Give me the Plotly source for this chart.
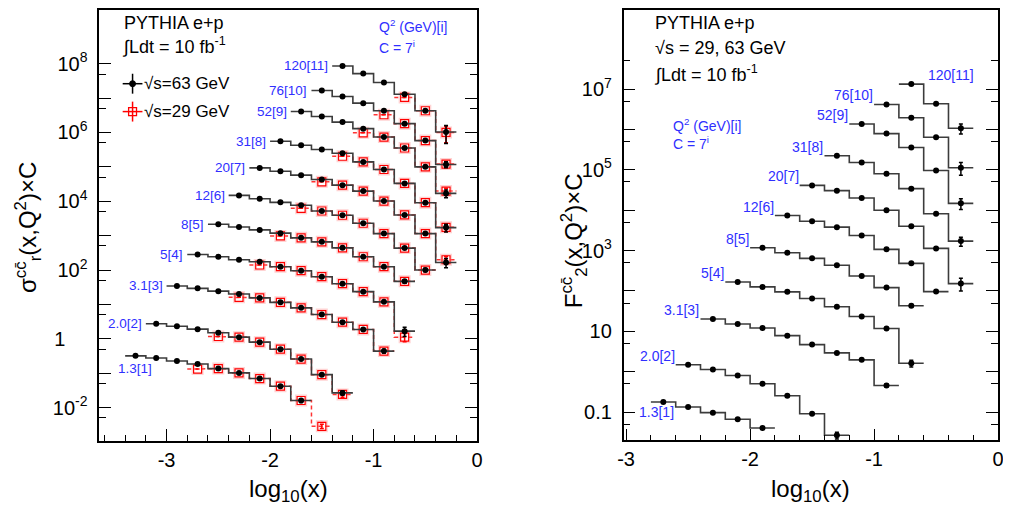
import numpy as np
import plotly.graph_objects as go
from plotly.subplots import make_subplots

# ---- data (values as plotted, i.e. already multiplied by C = 7^i) ----
Q2_LABELS = ["1.3", "2.0", "3.1", "5", "8", "12", "20", "31", "52", "76", "120"]

# log10(x) bin centres (bin width 0.2)
LOGX_BINS = [-3.3, -3.1, -2.9, -2.7, -2.5, -2.3, -2.1, -1.9,
             -1.7, -1.5, -1.3, -1.1, -0.9, -0.7, -0.5, -0.3]

# index of the first filled bin of every Q2 series
FIRST_BIN_63 = [0, 1, 2, 3, 4, 5, 6, 7, 8, 9, 10]
FIRST_BIN_29 = [3, 4, 5, 6, 7, 8, 9, 10, 11, 12, 13]
FIRST_BIN_F2 = [3, 4, 5, 6, 7, 8, 9, 10, 11, 12, 13]

# sigma_r(cc) x C, sqrt(s) = 63 GeV
sigma_63 = [
    [0.32, 0.277, 0.226, 0.185, 0.136, 0.102, 0.070, 0.042, 0.0161],
    [2.74, 2.33, 1.91, 1.50, 1.12, 0.80, 0.50, 0.258, 0.091, 0.0268],
    [34.4, 29.3, 24.3, 20.0, 15.5, 11.5, 7.94, 5.08, 3.04, 1.87, 0.44],
    [282, 243, 199, 174, 125, 95.5, 64.0, 40.1, 23.5, 11.9, 1.67],
    [2140, 1790, 1470, 1180, 861, 659, 442, 243, 125, 46.8],
    [14800, 11800, 9290, 7610, 5200, 3910, 2290, 1146, 434, 100],
    [93300, 74800, 57300, 43000, 29400, 19700, 10140, 3990, 1146, 166],
    [552000, 424000, 318000, 248000, 139000, 83800, 33000, 9060, 1710],
    [4.08e6, 2.92e6, 2.0e6, 1.29e6, 7.36e5, 3.53e5, 99800, 16900],
    [1.65e7, 1.11e7, 7.1e6, 4.28e6, 1.8e6, 5.79e5, 1.17e5],
    [8.58e7, 5.14e7, 2.82e7, 1.29e7, 4.28e6, 1.03e6],
]
sigma_63_err_last = [0.002, 0.004, 0.05, 0.5, 5, 10, 50, 430, 4200, 23000, 550000]

# sigma_r(cc) x C, sqrt(s) = 29 GeV
sigma_29 = [
    [0.132, 0.136, 0.102, 0.070, 0.042, 0.0161, 0.00286],
    [1.17, 1.12, 0.80, 0.50, 0.258, 0.091, 0.0241],
    [16.1, 15.5, 11.5, 7.94, 5.08, 3.04, 1.87, 0.44],
    [140, 125, 95.5, 64.0, 40.1, 23.5, 11.9, 1.12],
    [984, 861, 659, 442, 243, 125, 46.8],
    [6230, 5200, 3910, 2290, 1146, 434, 100],
    [36700, 29400, 19700, 10140, 3990, 1146, 199],
    [203000, 139000, 83800, 33000, 9060, 1750],
    [9.73e5, 7.36e5, 3.53e5, 99800, 19700],
    [3.27e6, 1.8e6, 5.79e5, 1.2e5],
    [1.04e7, 4.28e6, 1.0e6],
]
sigma_29_err_last = [0.0004, 0.004, 0.05, 0.3, 5, 10, 50, 430, 4200, 23000, 500000]

# F2(cc) x C, sqrt(s) = 63 GeV
f2_63 = [
    [0.177, 0.133, 0.0966, 0.066, 0.0403],
    [1.48, 1.13, 0.80, 0.50, 0.254, 0.091, 0.0266],
    [20.1, 15.1, 12.1, 7.8, 4.68, 2.92, 1.96, 0.455],
    [167, 126, 94.8, 64.7, 40.4, 23.3, 11.7, 1.61],
    [1172, 883, 642, 432, 235, 121, 42.8],
    [7380, 5340, 3800, 2370, 1071, 483, 96.4],
    [41200, 30500, 20000, 9970, 4020, 1132, 152],
    [223000, 152000, 80100, 34200, 8170, 1715],
    [1.37e6, 7.9e5, 3.57e5, 96600, 14800],
    [4.17e6, 1.96e6, 6.4e5, 1.13e5],
    [1.33e7, 4.34e6, 1.07e6],
]
f2_err_last = [0.002, 0.005, 0.04, 0.3, 3, 8, 53, 430, 4400, 40000, 300000]

# page body adds an 8px margin, so the figure is drawn 8px smaller and
# reference pixel positions are shifted by that offset
OFF = 8
W, H = 1011 - OFF, 510 - OFF
FONT = "Liberation Sans, Arial, Helvetica, sans-serif"
BLUE = "#2f2fff"


def px(x):
    return (x - OFF) / W


def py(y):
    return min(1.0, 1 - (y - OFF) / H)


def step(xc, y, half=0.1):
    xs, ys = [], []
    for c, v in zip(xc, y):
        xs += [c - half, c + half]
        ys += [v, v]
    return xs, ys


def add_series(fig, col, xc, vals, err_last, red=False):
    sx, sy = step(xc, vals)
    err = [0] * (len(vals) - 1) + [err_last]
    if red:
        fig.add_trace(go.Scatter(x=sx, y=sy, mode="lines",
                                 line=dict(color="rgba(255,0,0,0.8)", width=1.5, dash="4px,3px")),
                      row=1, col=col)
        fig.add_trace(go.Scatter(x=xc, y=vals, mode="markers",
                                 marker=dict(symbol="square-open", size=10,
                                             color="rgba(255,110,110,0.3)", line=dict(width=2))),
                      row=1, col=col)
        fig.add_trace(go.Scatter(x=xc, y=vals, mode="markers",
                                 marker=dict(symbol="square-open", size=8, color="red",
                                             line=dict(width=1.2)),
                                 error_y=dict(type="data", array=err, color="red",
                                              thickness=1.5, width=2)),
                      row=1, col=col)
    else:
        fig.add_trace(go.Scatter(x=sx, y=sy, mode="lines",
                                 line=dict(color="#3c3c3c", width=1.6)),
                      row=1, col=col)
        fig.add_trace(go.Scatter(x=xc, y=vals, mode="markers",
                                 marker=dict(symbol="circle", size=6, color="black"),
                                 error_y=dict(type="data", array=err, color="black",
                                              thickness=1.5, width=2)),
                      row=1, col=col)


fig = make_subplots(rows=1, cols=2)

annotations = []

# left panel: sigma_r
for i in range(len(Q2_LABELS)):
    f = FIRST_BIN_29[i]
    add_series(fig, 1, LOGX_BINS[f:f + len(sigma_29[i])], sigma_29[i], sigma_29_err_last[i], red=True)
for i in range(len(Q2_LABELS)):
    f = FIRST_BIN_63[i]
    xc = LOGX_BINS[f:f + len(sigma_63[i])]
    add_series(fig, 1, xc, sigma_63[i], sigma_63_err_last[i])
    lab = f"{Q2_LABELS[i]}[{i + 1}]"
    if i == 0:
        annotations.append(dict(x=xc[0], y=np.log10(sigma_63[i][0]), xref="x", yref="y",
                                text=lab, showarrow=False, xanchor="center", yanchor="middle",
                                yshift=-13, font=dict(size=13.5, color=BLUE, family=FONT)))
    else:
        annotations.append(dict(x=xc[0] - 0.1, y=np.log10(sigma_63[i][0]), xref="x", yref="y",
                                text=lab, showarrow=False, xanchor="right", yanchor="middle",
                                xshift=-2, font=dict(size=13.5, color=BLUE, family=FONT)))

# right panel: F2
for i in range(len(Q2_LABELS)):
    f = FIRST_BIN_F2[i]
    xc = LOGX_BINS[f:f + len(f2_63[i])]
    add_series(fig, 2, xc, f2_63[i], f2_err_last[i])
    lab = f"{Q2_LABELS[i]}[{i + 1}]"
    if i == 0:
        a = dict(x=xc[0], xanchor="center", yanchor="middle", xshift=-7, yshift=-10)
    elif i == len(Q2_LABELS) - 1:
        a = dict(x=xc[0], xanchor="left", yanchor="middle", xshift=15, yshift=9)
    else:
        a = dict(x=xc[0] - 0.1, xanchor="right", yanchor="bottom", xshift=1, yshift=-1)
    a.update(y=np.log10(f2_63[i][0]), xref="x2", yref="y2", text=lab, showarrow=False,
             font=dict(size=14, color=BLUE, family=FONT))
    annotations.append(a)

fig.update_traces(showlegend=False, hoverinfo="skip")


def text(x, y, s, size=18, color="black", **kw):
    d = dict(x=px(x), y=py(y), xref="paper", yref="paper", text=s, showarrow=False,
             xanchor="left", yanchor="middle", font=dict(size=size, color=color, family=FONT))
    d.update(kw)
    return d


annotations += [
    text(117, 21, "PYTHIA e+p"),
    text(115, 44, "∫Ldt = 10 fb<sup>-1</sup>"),
    text(138, 82, "√s=63 GeV", size=17),
    text(138, 110, "√s=29 GeV", size=17),
    text(375, 24, "Q<sup>2</sup> (GeV)[i]", size=14, color=BLUE),
    text(375, 45, "C = 7<sup>i</sup>", size=14, color=BLUE),
    text(655, 21, "PYTHIA e+p"),
    text(655, 46, "√s = 29, 63 GeV"),
    text(654, 72, "∫Ldt = 10 fb<sup>-1</sup>"),
    text(673, 123, "Q<sup>2</sup> (GeV)[i]", size=14, color=BLUE),
    text(673, 142, "C = 7<sup>i</sup>", size=14, color=BLUE),
    text(22, 226, "σ<sup>cc\u0304</sup><sub>r</sub>(x,Q<sup>2</sup>)×C", size=24,
         xanchor="center", textangle=-90),
    text(575, 240, "F<sup>cc\u0304</sup><sub>2</sub>(x,Q<sup>2</sup>)×C", size=24,
         xanchor="center", textangle=-90),
    text(286, 490, "log<sub>10</sub>(x)", size=24, xanchor="center"),
    text(814, 490, "log<sub>10</sub>(x)", size=24, xanchor="center"),
]

# legend glyphs
shapes = [
    dict(type="line", x0=px(118), x1=px(138), y0=py(82), y1=py(82), line=dict(color="black", width=1.5)),
    dict(type="line", x0=px(128), x1=px(128), y0=py(72), y1=py(92), line=dict(color="black", width=1.5)),
    dict(type="circle", x0=px(125), x1=px(131), y0=py(85), y1=py(79), fillcolor="black",
         line=dict(color="black", width=1)),
    dict(type="line", x0=px(118), x1=px(138), y0=py(110), y1=py(110), line=dict(color="red", width=1.5)),
    dict(type="line", x0=px(128), x1=px(128), y0=py(100), y1=py(120), line=dict(color="red", width=1.5)),
    dict(type="rect", x0=px(124), x1=px(132), y0=py(114), y1=py(106),
         line=dict(color="red", width=1.3)),
]
for s in shapes:
    s.update(xref="paper", yref="paper")

axis_common = dict(showgrid=False, zeroline=False, showline=True, linecolor="black",
                   linewidth=1.5, ticks="inside", tickcolor="black", tickwidth=1.2,
                   tickfont=dict(size=20, family=FONT, color="black"))

left_dec = list(range(-2, 9))
left_txt = {-2: "10<sup>-2</sup>", 0: "1\u00a0\u00a0\u00a0\u00a0", 2: "10<sup>2</sup>",
            4: "10<sup>4</sup>", 6: "10<sup>6</sup>", 8: "10<sup>8</sup>"}
right_dec = list(range(-1, 8))
right_txt = {-1: "0.1", 1: "10", 3: "10<sup>3</sup>", 5: "10<sup>5</sup>", 7: "10<sup>7</sup>"}

fig.update_xaxes(axis_common)
fig.update_yaxes(axis_common)
fig.update_layout(
    xaxis=dict(domain=[px(94.3), px(476.7)], range=[-3.65, 0], tickvals=[-3, -2, -1, 0],
               ticktext=["-3", "-2", "-1", "0"], ticklen=12, mirror=True,
               minor=dict(dtick=0.2, tick0=0, ticks="inside", ticklen=6, tickcolor="black")),
    # frame top clipped at the page offset, range top adjusted to keep the same scale
    yaxis=dict(domain=[py(440.7), py(8)], type="log", range=[-2.97, 9.56],
               tickvals=[10.0 ** d for d in left_dec],
               ticktext=[left_txt.get(d, "") for d in left_dec], ticklen=12, mirror="ticks",
               ticklabelstandoff=6,
               minor=dict(tickvals=[5 * 10.0 ** d for d in range(-3, 8)], ticks="inside",
                          ticklen=7, tickcolor="black")),
    xaxis2=dict(domain=[px(625), px(1004)], range=[-3.02, 0], tickvals=[-3, -2, -1, 0],
                ticktext=["-3", "-2", "-1", "0"], ticklen=12, mirror=True,
                minor=dict(dtick=0.2, tick0=0, ticks="inside", ticklen=6, tickcolor="black")),
    yaxis2=dict(domain=[py(440), py(8)], type="log", range=[-1.70, 8.96],
                tickvals=[10.0 ** d for d in right_dec],
                ticktext=[right_txt.get(d, "") for d in right_dec], ticklen=12, mirror="ticks",
                ticklabelstandoff=6,
                minor=dict(tickvals=[5 * 10.0 ** d for d in range(-2, 8)], ticks="inside",
                           ticklen=7, tickcolor="black")),
    annotations=annotations,
    shapes=shapes,
    width=W, height=H,
    margin=dict(l=0, r=0, t=0, b=0),
    paper_bgcolor="white", plot_bgcolor="white",
    font=dict(family=FONT, color="black"),
    showlegend=False,
)

fig.write_html("out.html")
